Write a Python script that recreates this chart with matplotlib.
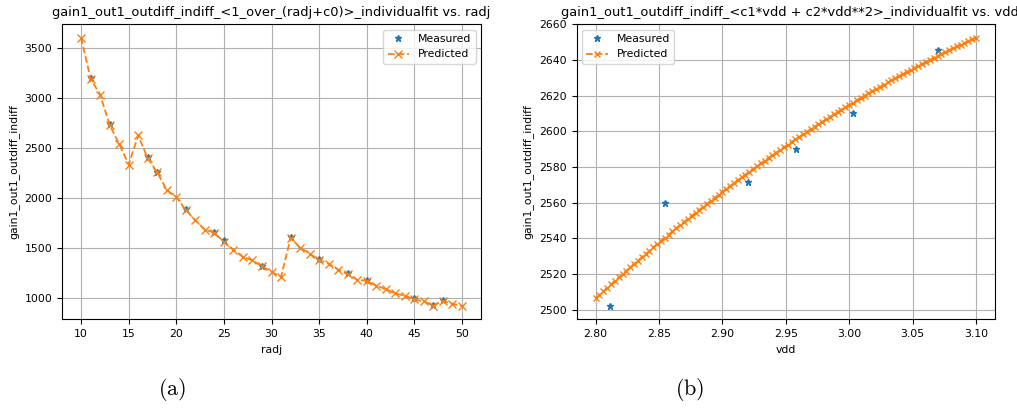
import numpy as np
import matplotlib
matplotlib.use('Agg')
import matplotlib.pyplot as plt
from matplotlib.ticker import MultipleLocator

plt.rcParams['mathtext.fontset'] = 'cm'
plt.rcParams['font.size'] = 7.8

# left panel: radj sweep
radj_pred = list(range(10, 51))
gain_pred = [3600, 3190, 3030, 2730, 2540, 2335, 2625, 2397, 2257, 2080,
             2013, 1880, 1780, 1685, 1655, 1565, 1487, 1413, 1380, 1322,
             1265, 1215, 1600, 1507, 1447, 1382, 1347, 1288, 1240, 1188,
             1175, 1127, 1093, 1050, 1028, 992, 970, 930, 975, 948, 925]
radj_meas = [11, 13, 17, 18, 21, 24, 25, 29, 32, 35, 38, 40, 45, 47, 48]
gain_meas = [3195, 2735, 2405, 2262, 1890, 1660, 1580, 1328, 1610, 1390,
             1250, 1180, 1000, 938, 985]

# right panel: vdd sweep
vdd_start, vdd_stop, vdd_n = 2.8, 3.1, 100
vdd_pred = np.linspace(vdd_start, vdd_stop, vdd_n)
gain_vdd_pred = [
    2506.5, 2508.5, 2510.4, 2512.4, 2514.3, 2516.2, 2518.2, 2520.1, 2522.0, 2523.9,
    2525.7, 2527.6, 2529.5, 2531.3, 2533.1, 2535.0, 2536.8, 2538.6, 2540.4, 2542.2,
    2544.0, 2545.7, 2547.5, 2549.2, 2551.0, 2552.7, 2554.4, 2556.1, 2557.8, 2559.5,
    2561.2, 2562.8, 2564.5, 2566.1, 2567.8, 2569.4, 2571.0, 2572.6, 2574.2, 2575.8,
    2577.4, 2579.0, 2580.5, 2582.1, 2583.6, 2585.1, 2586.6, 2588.1, 2589.6, 2591.1,
    2592.6, 2594.1, 2595.5, 2596.9, 2598.4, 2599.8, 2601.2, 2602.6, 2604.0, 2605.4,
    2606.8, 2608.1, 2609.5, 2610.8, 2612.2, 2613.5, 2614.8, 2616.1, 2617.4, 2618.7,
    2619.9, 2621.2, 2622.5, 2623.7, 2624.9, 2626.2, 2627.4, 2628.6, 2629.8, 2630.9,
    2632.1, 2633.3, 2634.4, 2635.6, 2636.7, 2637.8, 2638.9, 2640.0, 2641.1, 2642.2,
    2643.3, 2644.3, 2645.4, 2646.4, 2647.5, 2648.5, 2649.5, 2650.5, 2651.5, 2652.5]
vdd_meas = [2.8116, 2.855, 2.920, 2.9579, 3.0034, 3.0703]
gain_vdd_meas = [2502.2, 2560.0, 2571.4, 2589.9, 2610.5, 2645.8]

fig = plt.figure(figsize=(10.17, 4.09), dpi=100)
ax1 = fig.add_axes([0.061, 0.219, 0.412, 0.722])
ax2 = fig.add_axes([0.567, 0.219, 0.4113, 0.722])

ax1.plot(radj_meas, gain_meas, '*', color='C0', markersize=5, label='Measured')
ax1.plot(radj_pred, gain_pred, 'x--', color='C1', markersize=5.5, linewidth=1.3, label='Predicted')
ax1.set_title('gain1_out1_outdiff_indiff_<1_over_(radj+c0)>_individualfit vs. radj')
ax1.set_xlabel('radj')
ax1.set_ylabel('gain1_out1_outdiff_indiff')
ax1.xaxis.set_major_locator(MultipleLocator(5))
ax1.yaxis.set_major_locator(MultipleLocator(500))
ax1.grid(True)
ax1.legend(loc='upper right')

ax2.plot(vdd_meas, gain_vdd_meas, '*', color='C0', markersize=5, label='Measured')
ax2.plot(vdd_pred, gain_vdd_pred, 'x--', color='C1', markersize=5, linewidth=1.3, label='Predicted')
ax2.set_title('gain1_out1_outdiff_indiff_<c1*vdd + c2*vdd**2>_individualfit vs. vdd',
              x=0.51)
ax2.set_xlabel('vdd')
ax2.set_ylabel('gain1_out1_outdiff_indiff')
ax2.xaxis.set_major_locator(MultipleLocator(0.05))
ax2.yaxis.set_major_locator(MultipleLocator(20))
ax2.grid(True)
ax2.legend(loc='upper left')

fig.text(0.169, 0.035, r'$\mathrm{(a)}$', fontsize=16, ha='center')
fig.text(0.678, 0.035, r'$\mathrm{(b)}$', fontsize=16, ha='center')

plt.savefig('out.png', dpi=100)
